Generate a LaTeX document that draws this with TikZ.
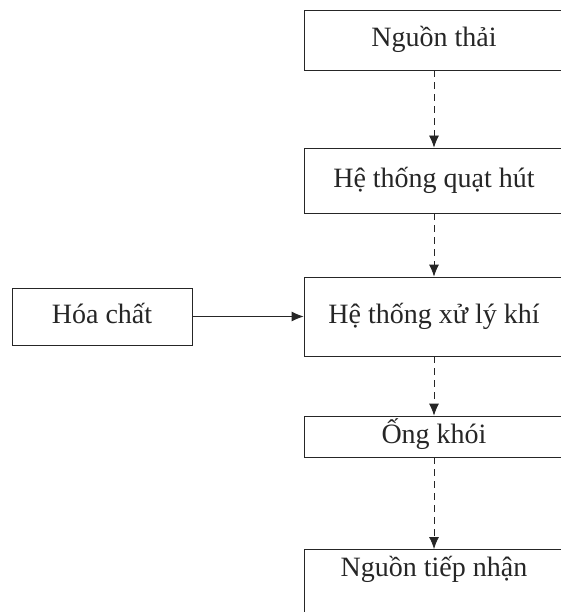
\documentclass[tikz,border=0pt]{standalone}
\usepackage{fontspec}
\setmainfont{Liberation Serif}
\usetikzlibrary{arrows.meta}
\begin{document}
\begin{tikzpicture}[x=1pt,y=-1pt,
  boxstyle/.style={draw=black!85, line width=0.8pt, rectangle, inner sep=0pt,
    text=black!85, font=\fontsize{28}{32}\selectfont, text height=20pt, text depth=6pt},
  flowarrow/.style={draw=black!85, line width=0.8pt, -{Latex[length=12pt,width=10pt]}},
  dashedarrow/.style={flowarrow, dash pattern=on 7pt off 5pt}
]
\useasboundingbox (0,0) rectangle (561,612);
\clip (0,0) rectangle (561,612);
\node[boxstyle, minimum width=260pt, minimum height=60pt] (b1) at (434,40) {Nguồn thải};
\node[boxstyle, minimum width=260pt, minimum height=65pt] (b2) at (434,180.5) {Hệ thống quạt hút};
\node[boxstyle, minimum width=260pt, minimum height=79pt] (b3) at (434,316.5) {Hệ thống xử lý khí};
\node[boxstyle, minimum width=260pt, minimum height=41pt] (b4) at (434,436.5) {Ống khói};
\node[boxstyle, minimum width=260pt, anchor=north, inner ysep=7pt, text depth=42pt] (b5) at (434,549) {Nguồn tiếp nhận};
\node[boxstyle, minimum width=180pt, minimum height=57pt] (hc) at (102,316.5) {Hóa chất};
\draw[dashedarrow] (b1.south) -- (b2.north);
\draw[dashedarrow] (b2.south) -- (b3.north);
\draw[dashedarrow] (b3.south) -- (b4.north);
\draw[dashedarrow] (b4.south) -- (b5.north);
\draw[flowarrow] (hc.east) -- (b3.west);
\end{tikzpicture}
\end{document}
